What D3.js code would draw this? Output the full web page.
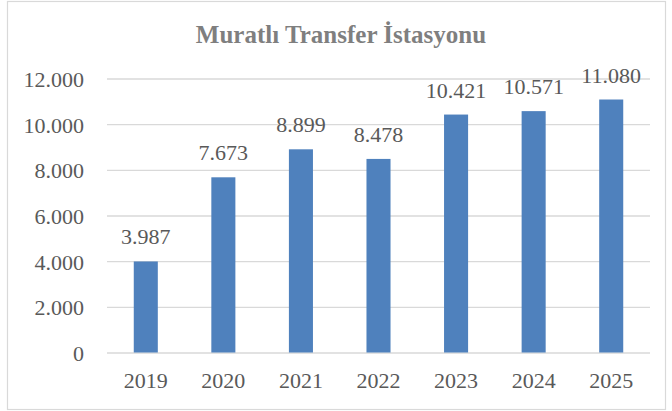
<!DOCTYPE html>
<html><head><meta charset="utf-8">
<script src="https://cdn.jsdelivr.net/npm/d3@7"></script>
<style>body{margin:0;background:#fff}svg{display:block}svg text{font-family:'Liberation Serif','Times New Roman',serif}</style>
</head><body>
<svg id="c" width="672" height="411"></svg>
<script>
const title = "Muratlı Transfer İstasyonu";
const years = ["2019","2020","2021","2022","2023","2024","2025"];
const values = [3987, 7673, 8899, 8478, 10421, 10571, 11080];
const yTicks = [0, 2000, 4000, 6000, 8000, 10000, 12000];

const svg = d3.select("#c");
const fmt = v => v === 0 ? "0" : d3.format(",")(v).replace(/,/g, ".");
const font = "'Liberation Serif','Times New Roman',serif";

svg.append("rect").attr("x",7.5).attr("y",1.5).attr("width",658).attr("height",408)
  .attr("fill","#fff").attr("stroke","#d9d9d9").attr("stroke-width",1.2);

const x = d3.scaleBand().domain(years).range([107, 650]).paddingInner(0.69).paddingOuter(0.345);
const y = d3.scaleLinear().domain([0, 12000]).range([352.5, 78.5]);

svg.append("text").attr("x",341).attr("y",42.5).attr("text-anchor","middle")
  .style("font-family",font).attr("font-weight","bold").attr("font-size",25)
  .attr("fill","#7f7f7f").text(title);

const yAxis = svg.append("g").attr("transform","translate(107,0)")
  .call(d3.axisLeft(y).tickValues(yTicks).tickSize(-543).tickFormat(fmt).tickPadding(23));
yAxis.attr("font-family", null);
yAxis.select(".domain").remove();
yAxis.selectAll("line").attr("stroke","#d9d9d9").attr("stroke-width",1.3);
yAxis.selectAll("text").style("font-family",font).attr("font-size",22).attr("fill","#595959").attr("dy","0.36em");

const xAxis = svg.append("g").attr("transform","translate(0,352.5)")
  .call(d3.axisBottom(x).tickSize(0).tickPadding(20));
xAxis.attr("font-family", null);
xAxis.select(".domain").remove();
xAxis.selectAll("text").style("font-family",font).attr("font-size",22).attr("fill","#595959");

svg.append("g").selectAll("rect").data(values).join("rect")
  .attr("x",(d,i)=>x(years[i])).attr("width",x.bandwidth())
  .attr("y",d=>y(d)).attr("height",d=>y(0)-y(d)).attr("fill","#4f81bd");

svg.append("g").selectAll("text").data(values).join("text")
  .attr("x",(d,i)=>x(years[i])+x.bandwidth()/2).attr("y",d=>y(d)-17)
  .attr("text-anchor","middle").style("font-family",font).attr("font-size",22)
  .attr("fill","#595959").text(d=>fmt(d));
</script>
</body></html>
